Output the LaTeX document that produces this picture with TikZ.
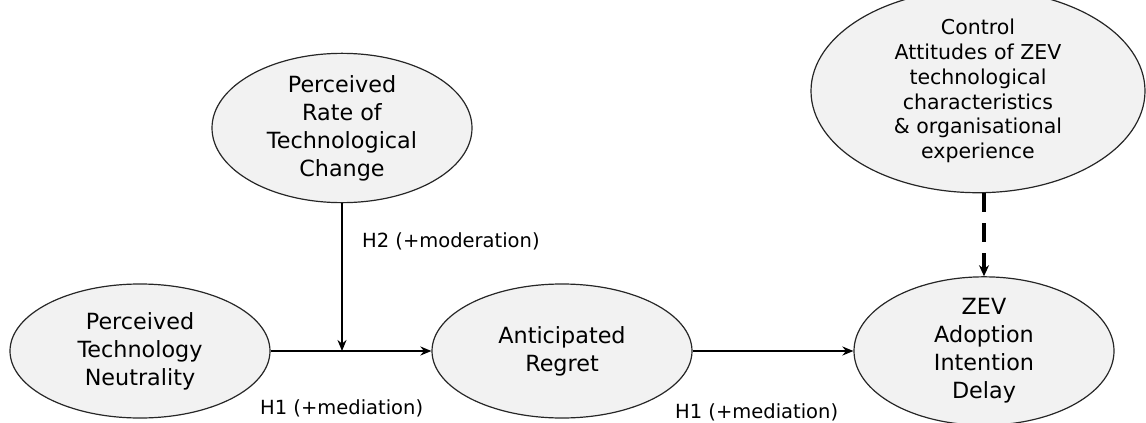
\documentclass[tikz,border=0pt]{standalone}
\usepackage{fontspec}
\setmainfont{DejaVu Sans}
\usetikzlibrary{arrows.meta,shapes.geometric}
\definecolor{ovalfill}{HTML}{F2F2F2}
\begin{document}
\begin{tikzpicture}[x=1pt,y=-1pt,
  construct/.style={ellipse,draw=black!85,line width=1.2pt,fill=ovalfill,
    inner sep=0pt,align=center,minimum width=260pt,minimum height=134pt,
    font=\fontsize{22.3}{28}\selectfont},
  link/.style={line width=1.8pt,-{Stealth[length=11pt,width=9pt]}},
  hyp/.style={font=\fontsize{19.5}{22}\selectfont,anchor=west,inner sep=0pt}]
\useasboundingbox (0,0) rectangle (1146,423);
% constructs
\node[construct] (ptn) at (140,351) {Perceived\\Technology\\Neutrality};
\node[construct] (prtc) at (342,128) {Perceived\\Rate of\\Technological\\Change};
\node[construct] (ar) at (562,351) {Anticipated\\Regret};
\node[construct] (zev) at (984,351) {ZEV\\Adoption\\Intention\\Delay};
\node[construct,minimum width=334pt,minimum height=162pt,
  font=\fontsize{20.5}{24.8}\selectfont] (ctrl) at (978,91)
  {Control\\Attitudes of ZEV\\technological\\characteristics\\\& organisational\\experience};
% paths
\coordinate (mod) at (prtc.south |- ptn.east);
\draw[link] (ptn.east) -- (ar.west);
\draw[link] (ar.east) -- (zev.west);
\draw[link] (prtc.south) -- (mod);
\draw[line width=3.2pt,dash pattern=on 19pt off 11pt,
  -{Stealth[length=11pt,width=10pt]}] (zev.north |- ctrl.south) -- (zev.north);
% hypothesis labels
\node[hyp] (h2) at (362,241) {H2 (+moderation)};
\node[hyp] (h1a) at (260,408) {H1 (+mediation)};
\node[hyp] (h1b) at (675,412) {H1 (+mediation)};
\end{tikzpicture}
\end{document}
